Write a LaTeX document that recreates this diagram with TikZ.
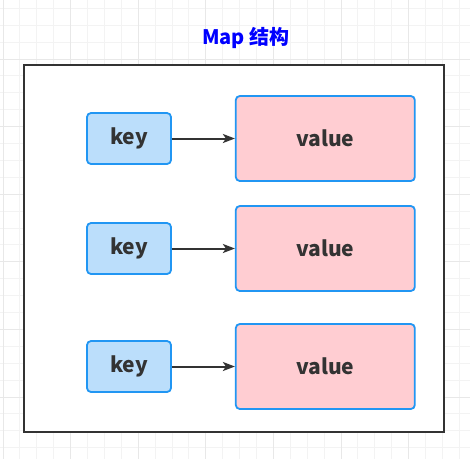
\documentclass[tikz,border=0pt]{standalone}
\usepackage{fontspec}
\setmainfont{Noto Sans CJK SC}
\usetikzlibrary{positioning,arrows.meta}
\definecolor{keyfill}{HTML}{BBDEFB}
\definecolor{valfill}{HTML}{FFCDD2}
\definecolor{boxline}{HTML}{2196F3}
\definecolor{ink}{HTML}{333333}
\definecolor{titleblue}{HTML}{0000FF}
\definecolor{gridminor}{HTML}{F3F3F3}
\definecolor{gridmajor}{HTML}{E8E8E8}

\begin{document}
\begin{tikzpicture}[x=1pt,y=-1pt,
  >={Stealth[length=12pt,width=9pt,inset=3pt]},
  every node/.style={font=\bfseries\fontsize{21}{24}\selectfont,text=ink},
  keybox/.style={draw=boxline,fill=keyfill,line width=1.8pt,rounded corners=4pt,
    minimum width=84pt,minimum height=51pt},
  valbox/.style={draw=boxline,fill=valfill,line width=1.8pt,rounded corners=4pt,
    minimum width=179pt,minimum height=85pt},
  ]
	\useasboundingbox (0,0) rectangle (470,459);
	% background grid
	\foreach \i in {0,...,27} {
		\draw [gridminor,line width=1pt] ({3+16.9*\i},0) -- ++(0,459);
		\draw [gridminor,line width=1pt] (0,{-8.6+16.9*\i}) -- ++(470,0);
	}
	\foreach \i in {0,...,6} {
		\draw [gridmajor,line width=1pt] ({3+67.6*\i},0) -- ++(0,459);
		\draw [gridmajor,line width=1pt] (0,{-8.6+67.6*\i}) -- ++(470,0);
	}
	\node [text=titleblue,font=\bfseries\fontsize{20}{24}\selectfont] (title) at (246,38) {Map 结构} ;
	\node [draw=ink,fill=white,line width=2pt,minimum width=420pt,minimum height=367pt] (map) at (234,248.5) {} ;
	\node [keybox] (key1) at (129,138.5) {key} ;
	\node [valbox,right=63pt of key1] (value1) {value} ;
	\node [keybox] (key2) at (129,248.5) {key} ;
	\node [valbox,right=63pt of key2] (value2) {value} ;
	\node [keybox] (key3) at (129,366.5) {key} ;
	\node [valbox,right=63pt of key3] (value3) {value} ;
	\draw [->,ink,line width=2pt] (key1) -- (value1) ;
	\draw [->,ink,line width=2pt] (key2) -- (value2) ;
	\draw [->,ink,line width=2pt] (key3) -- (value3) ;
\end{tikzpicture}
\end{document}
